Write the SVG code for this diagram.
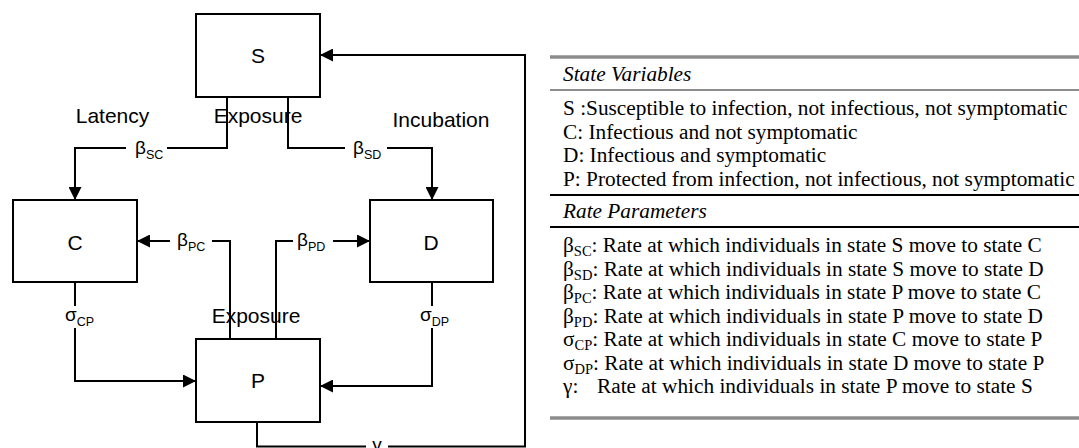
<svg xmlns="http://www.w3.org/2000/svg" width="1079" height="448" viewBox="0 0 1079 448">
<style>
.box{fill:#fff;stroke:#000;stroke-width:2}
.lbl{font-family:"Liberation Sans",Arial,sans-serif;font-size:21px;fill:#000}
.node{font-family:"Liberation Sans",Arial,sans-serif;font-size:21px;fill:#000;text-anchor:middle}
.gk{font-family:"Liberation Sans",Arial,sans-serif;font-size:19px;fill:#000}
.sub{font-size:12.5px}
.edge{fill:none;stroke:#000;stroke-width:2}
.bg{fill:#fff}
.tb{font-family:"Liberation Serif","Times New Roman",serif;font-size:21.3px;fill:#000}
.tbi{font-style:italic}
.ts{font-size:14.5px}
.gray{stroke:#8c8c8c}
</style>
<defs>
<marker id="arr" markerUnits="userSpaceOnUse" markerWidth="13" markerHeight="13" refX="13" refY="6.5" orient="auto">
<path d="M0,0 L13,6.5 L0,13 z" fill="#000"/>
</marker>
</defs>

<g id="connectors">
<polyline class="edge" points="227,97 227,148 75,148 75,200" marker-end="url(#arr)"/>
<polyline class="edge" points="288,97 288,148 432,148 432,200" marker-end="url(#arr)"/>
<polyline class="edge" points="230,339 230,241 137,241" marker-end="url(#arr)"/>
<polyline class="edge" points="276,339 276,241 370,241" marker-end="url(#arr)"/>
<polyline class="edge" points="75,282 75,381 196,381" marker-end="url(#arr)"/>
<polyline class="edge" points="432,282 432,386 320,386" marker-end="url(#arr)"/>
<polyline class="edge" points="257,422 257,446.5 525,446.5 525,55 320,55" marker-end="url(#arr)"/>
</g>

<g id="edge-labels">
<rect class="bg" x="126" y="140" width="41" height="20"/>
<text class="gk" x="135" y="154">β<tspan class="sub" dy="5">SC</tspan></text>
<rect class="bg" x="345" y="140" width="42" height="20"/>
<text class="gk" x="353" y="154">β<tspan class="sub" dy="5">SD</tspan></text>
<rect class="bg" x="170" y="232" width="42" height="20"/>
<text class="gk" x="177" y="246">β<tspan class="sub" dy="5">PC</tspan></text>
<rect class="bg" x="293" y="232" width="40" height="20"/>
<text class="gk" x="297" y="246">β<tspan class="sub" dy="5">PD</tspan></text>
<rect class="bg" x="64" y="306" width="37" height="22"/>
<text class="gk" x="65" y="321">σ<tspan class="sub" dy="5">CP</tspan></text>
<rect class="bg" x="419" y="306" width="37" height="22"/>
<text class="gk" x="420" y="321">σ<tspan class="sub" dy="5">DP</tspan></text>
<rect class="bg" x="366" y="438" width="22" height="10"/>
<text class="gk" x="377" y="451" text-anchor="middle">γ</text>
<text class="lbl" x="112.5" y="123" text-anchor="middle">Latency</text>
<text class="lbl" x="258" y="123" text-anchor="middle">Exposure</text>
<text class="lbl" x="441" y="127" text-anchor="middle">Incubation</text>
<text class="lbl" x="256" y="323" text-anchor="middle">Exposure</text>
</g>

<g id="node-S">
<rect class="box" x="196" y="14" width="124" height="83"/>
<text class="node" x="258" y="63">S</text>
</g>
<g id="node-C">
<rect class="box" x="13" y="200" width="124" height="82"/>
<text class="node" x="75" y="250">C</text>
</g>
<g id="node-D">
<rect class="box" x="370" y="200" width="123" height="82"/>
<text class="node" x="431" y="250">D</text>
</g>
<g id="node-P">
<rect class="box" x="196" y="339" width="124" height="83"/>
<text class="node" x="258" y="388">P</text>
</g>

<g id="legend-table">
<line class="gray" x1="550" y1="57" x2="1079" y2="57" stroke-width="3.5"/>
<line class="gray" x1="550" y1="90" x2="1079" y2="90" stroke-width="2"/>
<line x1="550" y1="195" x2="1079" y2="195" stroke="#000" stroke-width="2"/>
<line x1="550" y1="227" x2="1079" y2="227" stroke="#000" stroke-width="2"/>
<line class="gray" x1="550" y1="418" x2="1079" y2="418" stroke-width="3.5"/>
<text class="tb tbi" x="563" y="81">State Variables</text>
<text class="tb" x="563" y="115">S :Susceptible to infection, not infectious, not symptomatic</text>
<text class="tb" x="563" y="138.5">C: Infectious and not symptomatic</text>
<text class="tb" x="563" y="162">D: Infectious and symptomatic</text>
<text class="tb" x="563" y="185.5">P: Protected from infection, not infectious, not symptomatic</text>
<text class="tb tbi" x="563" y="218">Rate Parameters</text>
<text class="tb" x="563" y="252">β<tspan class="ts" dy="4">SC</tspan><tspan dy="-4">: Rate at which individuals in state S move to state C</tspan></text>
<text class="tb" x="563" y="275.5">β<tspan class="ts" dy="4">SD</tspan><tspan dy="-4">: Rate at which individuals in state S move to state D</tspan></text>
<text class="tb" x="563" y="299">β<tspan class="ts" dy="4">PC</tspan><tspan dy="-4">: Rate at which individuals in state P move to state C</tspan></text>
<text class="tb" x="563" y="322.5">β<tspan class="ts" dy="4">PD</tspan><tspan dy="-4">: Rate at which individuals in state P move to state D</tspan></text>
<text class="tb" x="563" y="346">σ<tspan class="ts" dy="4">CP</tspan><tspan dy="-4">: Rate at which individuals in state C move to state P</tspan></text>
<text class="tb" x="563" y="369.5">σ<tspan class="ts" dy="4">DP</tspan><tspan dy="-4">: Rate at which individuals in state D move to state P</tspan></text>
<text class="tb" x="563" y="393">γ:</text>
<text class="tb" x="597" y="393">Rate at which individuals in state P move to state S</text>
</g>
</svg>
